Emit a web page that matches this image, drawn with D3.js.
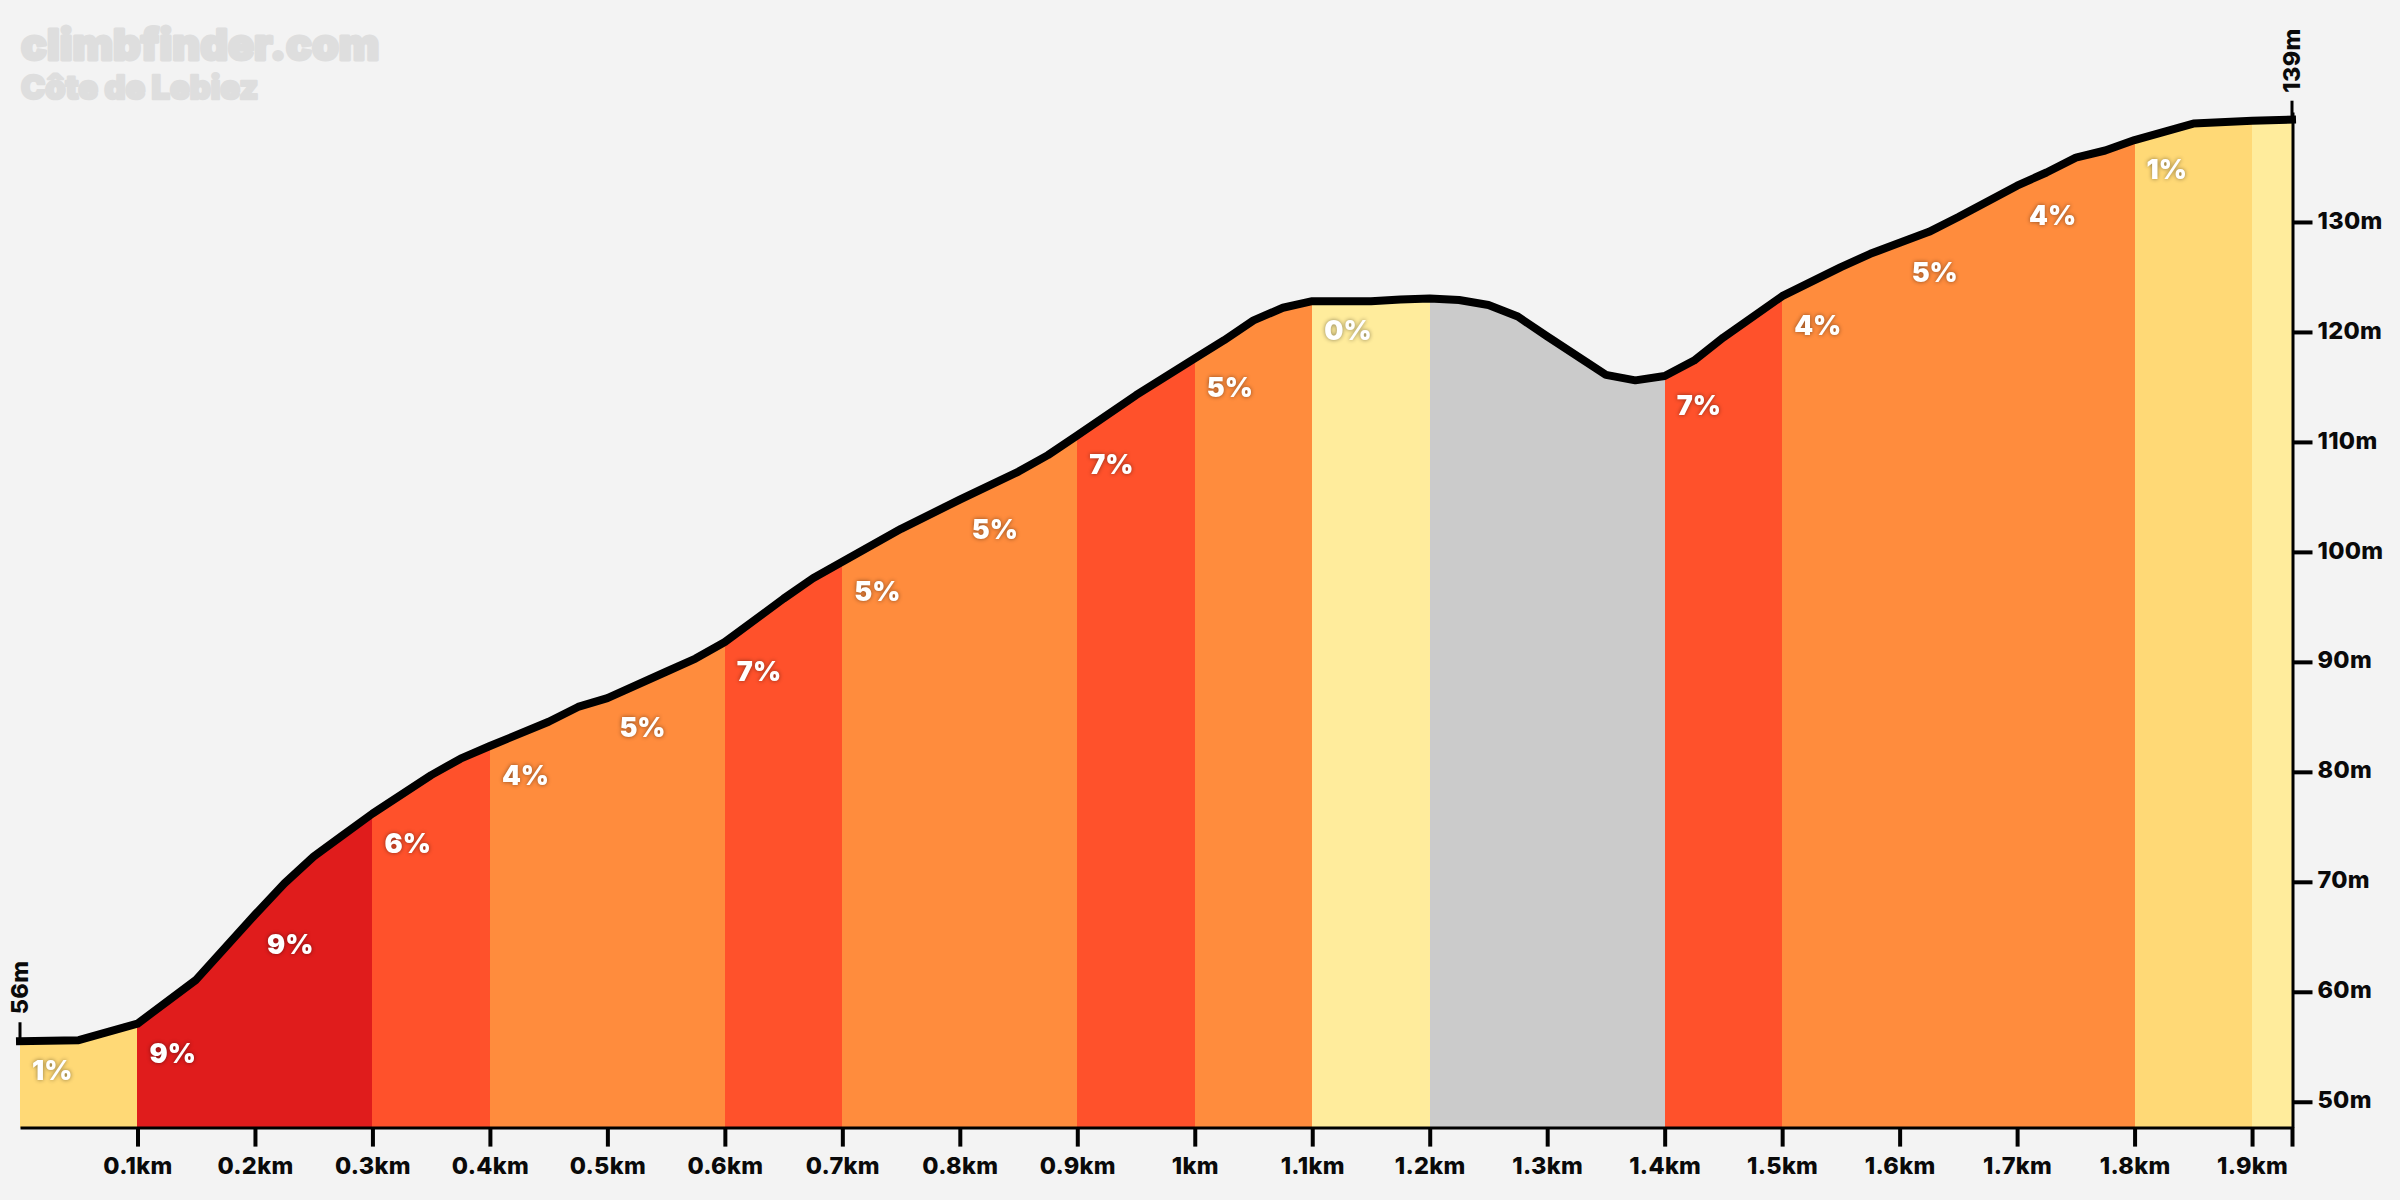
<!DOCTYPE html>
<html>
<head>
<meta charset="utf-8">
<script src="https://cdn.jsdelivr.net/npm/d3@7"></script>
<style>
  html, body { margin: 0; padding: 0; background: #f3f3f3; }
  svg { display: block; }
  text { font-family: "Inter", "Open Sans", sans-serif; }
  .axis text, text.axis { font-size: 23.5px; font-weight: 800; fill: #0a0a0a; letter-spacing: 0.3px; }
  .axis line { stroke: #000; stroke-width: 4px; }
  .axis path { stroke: #000; stroke-width: 3px; fill: none; }
  .grade { font-size: 27px; font-weight: 900; fill: #fff; filter: drop-shadow(0 0 2px rgba(0,0,0,.45)); }
  .mark { fill: #dedede; stroke: #dedede; stroke-linejoin: round; font-weight: 900; }
</style>
</head>
<body>
<svg id="chart" width="2400" height="1200"></svg>
<script>
// elevation profile
var distances = [0, 0.05, 0.1, 0.15, 0.2, 0.225, 0.25, 0.275, 0.3, 0.35, 0.375, 0.4, 0.45, 0.475, 0.5,
  0.55, 0.575, 0.6, 0.65, 0.675, 0.7, 0.75, 0.8, 0.85, 0.875, 0.9, 0.95, 1, 1.025, 1.05, 1.075, 1.1,
  1.15, 1.175, 1.2, 1.225, 1.25, 1.275, 1.3, 1.35, 1.375, 1.4, 1.425, 1.45, 1.5, 1.55, 1.575, 1.6, 1.625,
  1.65, 1.7, 1.725, 1.75, 1.775, 1.8, 1.85, 1.9, 1.934];
var elevations = [55.5, 55.6, 57.1, 61.1, 67, 69.85, 72.3, 74.25, 76.2, 79.7, 81.2, 82.35, 84.55, 85.9, 86.7,
  89.1, 90.3, 91.8, 95.75, 97.6, 99.1, 102.1, 104.75, 107.3, 108.8, 110.6, 114.25, 117.6, 119.25, 121.05, 122.2, 122.8,
  122.8, 122.95, 123.05, 122.9, 122.45, 121.4, 119.6, 116.1, 115.6, 116, 117.4, 119.5, 123.25, 125.9, 127.1, 128.1, 129.1,
  130.45, 133.3, 134.5, 135.85, 136.5, 137.45, 138.95, 139.2, 139.3];

// one entry per gradient block
var segStarts = [0, 0.1, 0.2, 0.3, 0.4, 0.5, 0.6, 0.7, 0.8, 0.9, 1, 1.1, 1.2, 1.3, 1.4, 1.5, 1.6, 1.7, 1.8, 1.9];
var segEnds = [0.1, 0.2, 0.3, 0.4, 0.5, 0.6, 0.7, 0.8, 0.9, 1, 1.1, 1.2, 1.3, 1.4, 1.5, 1.6, 1.7, 1.8, 1.9, 1.934];
var segGrades = [1, 9, 9, 6, 4, 5, 7, 5, 5, 7, 5, 0, -2, -2, 7, 4, 5, 4, 1, 0];
var segLabels = ["1%", "9%", "9%", "6%", "4%", "5%", "7%", "5%", "5%", "7%", "5%", "0%", "", "", "7%", "4%", "5%", "4%", "1%", ""];

var xTicks = [0.1, 0.2, 0.3, 0.4, 0.5, 0.6, 0.7, 0.8, 0.9, 1, 1.1, 1.2, 1.3, 1.4, 1.5, 1.6, 1.7, 1.8, 1.9, 1.934];
var xTickLabels = ["0.1km", "0.2km", "0.3km", "0.4km", "0.5km", "0.6km", "0.7km", "0.8km", "0.9km", "1km", "1.1km",
  "1.2km", "1.3km", "1.4km", "1.5km", "1.6km", "1.7km", "1.8km", "1.9km", ""];
var yTicks = [50, 60, 70, 80, 90, 100, 110, 120, 130];

var points = distances.map((d, i) => ({ d: d, e: elevations[i] }));

var svg = d3.select("#chart");
var x = d3.scaleLinear().domain([0, 1.934]).range([20, 2292]);
var y = d3.scaleLinear().domain([47.65, 140]).range([1127.6, 112]);

function gradeColor(g) {
  if (g < 0) return "#cbcbcb";
  if (g == 0) return "#ffec9c";
  if (g <= 3) return "#ffd976";
  if (g <= 5) return "#ff8c3d";
  if (g <= 8) return "#ff512b";
  return "#e01c1c";
}

// coloured blocks under the line
var area = d3.area().x(p => x(p.d)).y0(y(47.65)).y1(p => y(p.e));
segStarts.forEach((start, i) => {
  var inside = points.filter(p => p.d >= start && p.d <= segEnds[i]);
  svg.append("path")
    .attr("d", area(inside))
    .attr("fill", gradeColor(segGrades[i]))
    .attr("shape-rendering", "crispEdges");
});

// axes
var xAxis = d3.axisBottom(x)
  .tickValues(xTicks)
  .tickFormat((d, i) => xTickLabels[i])
  .tickSizeInner(19)
  .tickSizeOuter(0)
  .tickPadding(11);
svg.append("g").attr("class", "axis").attr("transform", "translate(0,1127.6)").call(xAxis);

var yAxis = d3.axisRight(y)
  .tickValues(yTicks)
  .tickFormat(d => d + "m")
  .tickSizeInner(20)
  .tickSizeOuter(0)
  .tickPadding(5);
svg.append("g").attr("class", "axis").attr("transform", "translate(2292.5,0)").call(yAxis)
  .selectAll("text").attr("dy", "0.26em");

// start and finish heights
var first = points[0], last = points[points.length - 1];
[[first, "56m"], [last, "139m"]].forEach(([p, label]) => {
  svg.append("line")
    .attr("x1", x(p.d)).attr("x2", x(p.d))
    .attr("y1", y(p.e)).attr("y2", y(p.e) - 19)
    .attr("stroke", "#000").attr("stroke-width", 3);
  svg.append("text")
    .attr("class", "axis")
    .attr("transform", `translate(${x(p.d) + 8},${y(p.e) - 27}) rotate(-90)`)
    .text(label);
});

// profile line
var line = d3.line().x(p => x(p.d)).y(p => y(p.e));
svg.append("path")
  .attr("d", line(points))
  .attr("fill", "none")
  .attr("stroke", "#000")
  .attr("stroke-width", 8)
  .attr("stroke-linecap", "square")
  .attr("stroke-linejoin", "round");

// gradient labels sit under the line at the start of each block
segStarts.forEach((start, i) => {
  if (!segLabels[i]) return;
  var p = points.find(q => q.d == start);
  svg.append("text")
    .attr("class", "grade")
    .attr("x", x(start) + 12)
    .attr("y", y(p.e) + 39)
    .text(segLabels[i]);
});

// watermark
svg.append("text").attr("class", "mark").attr("x", 21).attr("y", 60)
  .attr("font-size", 43).attr("stroke-width", 3).text("climbfinder.com");
svg.append("text").attr("class", "mark").attr("x", 21).attr("y", 99)
  .attr("font-size", 32.5).attr("stroke-width", 2.5).text("Côte de Lebiez");
</script>
</body>
</html>
